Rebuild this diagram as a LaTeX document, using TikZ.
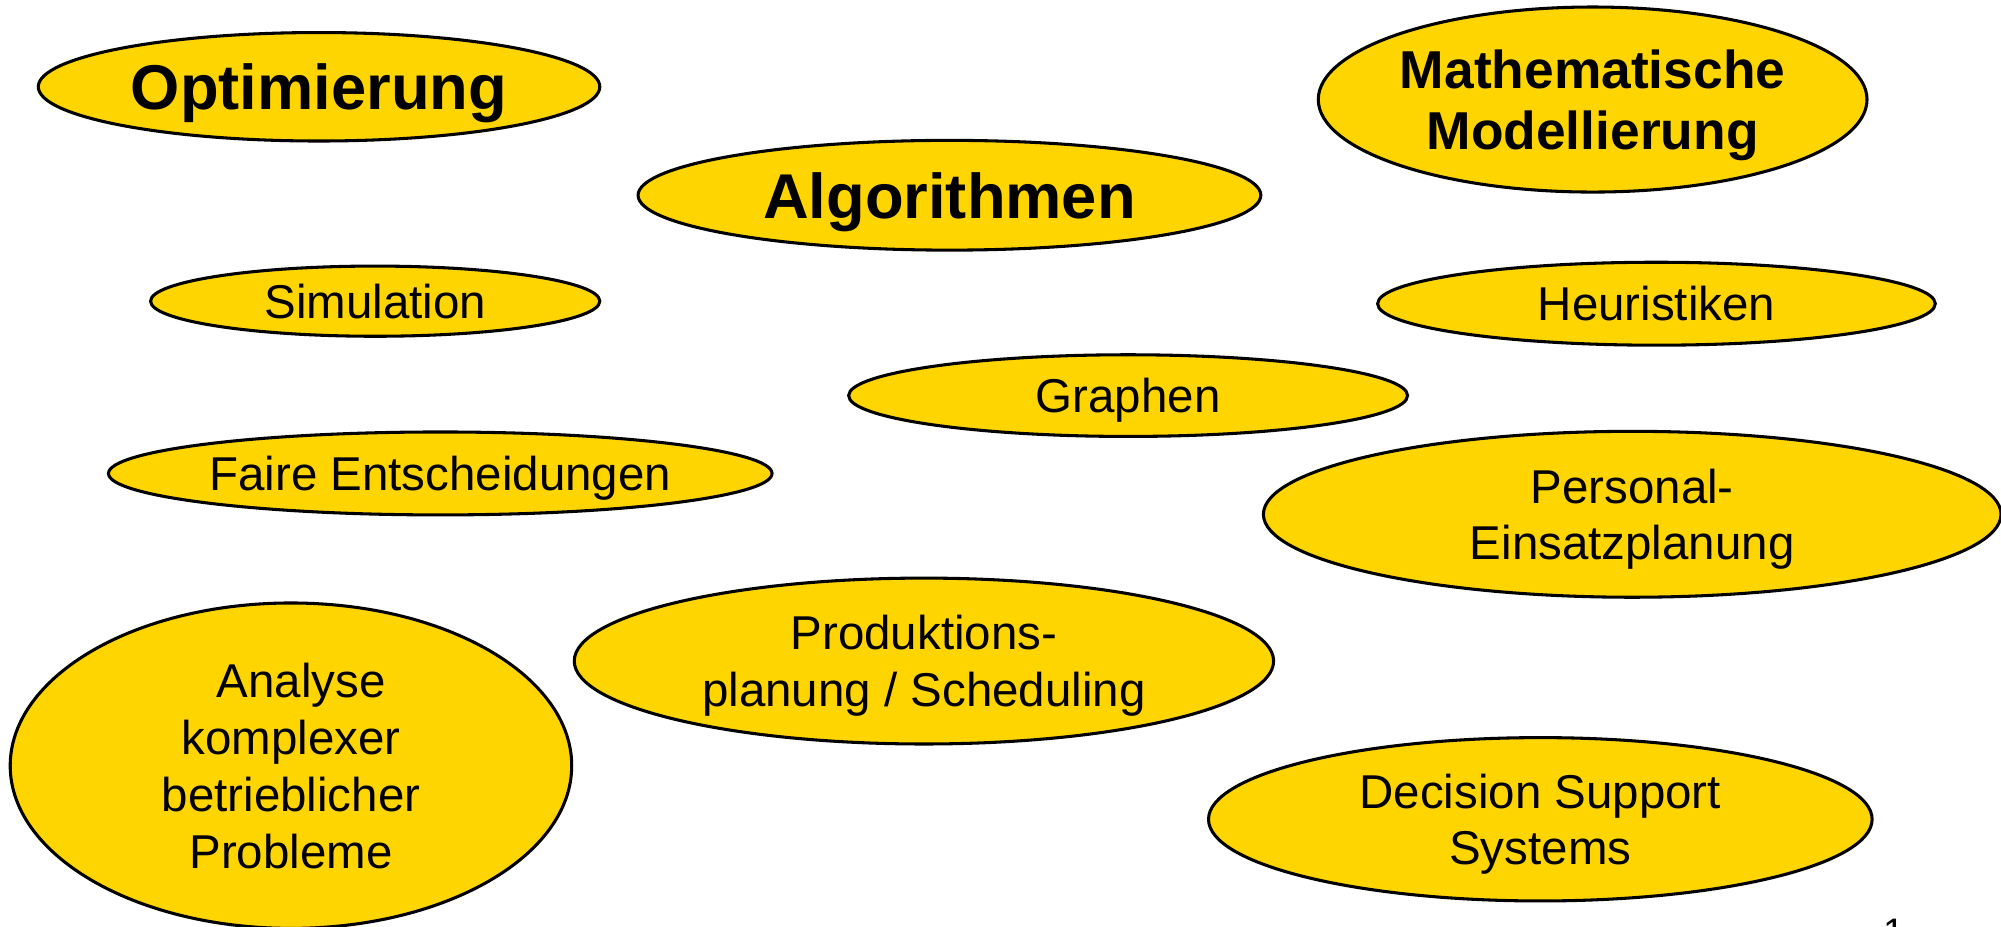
\documentclass[tikz,border=0pt]{standalone}
\usepackage{fontspec}
\setmainfont{Liberation Sans}
\usetikzlibrary{shapes.geometric}
\definecolor{bubyellow}{RGB}{255,213,0}
\tikzset{
  bub/.style={ellipse, draw=black, line width=1.2pt, fill=bubyellow, inner sep=0pt, align=center, text=black,
    text depth=0pt, font=\fontsize{18.6}{22.3}\selectfont},
  bigbub/.style={bub, font=\fontsize{24.8}{28.5}\selectfont\bfseries},
  midbub/.style={bub, font=\fontsize{20.9}{24}\selectfont\bfseries},
}
\begin{document}
\begin{tikzpicture}[x=0.5pt,y=-0.5pt]
\useasboundingbox (0,0) rectangle (1568,726.4);
\node[bigbub, minimum width=220pt, minimum height=42.5pt] (opt) at (250,68) {Optimierung};
\node[midbub, minimum width=215pt, minimum height=72.5pt] (mm) at (1248,78) {Mathematische\\Modellierung};
\node[bigbub, minimum width=244pt, minimum height=43pt] (alg) at (744,153) {Algorithmen};
\node[bub, minimum width=176pt, minimum height=27.5pt] (sim) at (294,236) {Simulation};
\node[bub, minimum width=218.5pt, minimum height=32.5pt] (heu) at (1298,238) {Heuristiken};
\node[bub, minimum width=219pt, minimum height=32pt] (gra) at (884,310) {Graphen};
\node[bub, minimum width=260pt, minimum height=32.5pt] (fai) at (345,371) {Faire Entscheidungen};
\node[bub, minimum width=289pt, minimum height=65pt] (per) at (1279,403) {Personal-\\Einsatzplanung};
\node[bub, minimum width=274pt, minimum height=65pt] (pro) at (724,518) {Produktions-\\planung / Scheduling};
\node[bub, minimum width=220pt, minimum height=127.5pt] (ana) at (228,600) {\hspace*{8pt}Analyse\\komplexer\\betrieblicher\\Probleme};
\node[bub, minimum width=260pt, minimum height=64pt] (dss) at (1207,642) {Decision Support\\Systems};
\node[anchor=base, inner sep=0pt, font=\fontsize{15}{18}\selectfont] (pnum) at (1484,741) {1};
\end{tikzpicture}
\end{document}
